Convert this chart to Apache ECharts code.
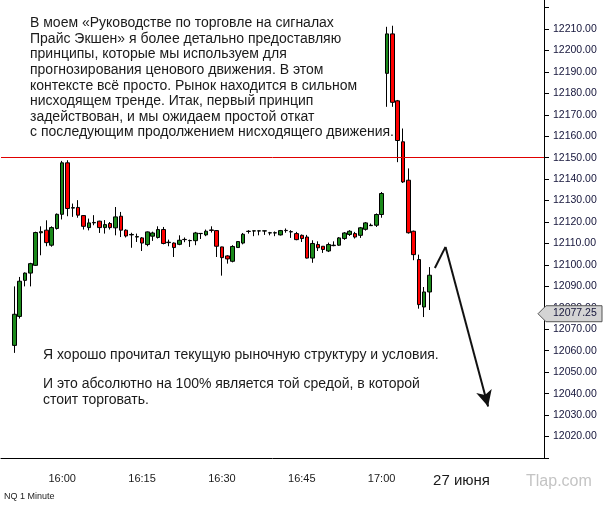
<!DOCTYPE html>
<html>
<head>
<meta charset="utf-8">
<script src="https://cdn.jsdelivr.net/npm/echarts@6/dist/echarts.min.js"></script>
<style>
  html, body { margin: 0; padding: 0; background: #fff; }
  #chart { width: 603px; height: 507px; }
</style>
</head>
<body>
<div id="chart"></div>
<script>
// minute categories shown on the x axis
const minutes = [
  "15:49", "15:50", "15:51", "15:52", "15:53", "15:54", "15:55", "15:56", "15:57", "15:58", "15:59",
  "16:00", "16:01", "16:02", "16:03", "16:04", "16:05", "16:06", "16:07", "16:08", "16:09",
  "16:10", "16:11", "16:12", "16:13", "16:14", "16:15", "16:16", "16:17", "16:18", "16:19",
  "16:20", "16:21", "16:22", "16:23", "16:24", "16:25", "16:26", "16:27", "16:28", "16:29",
  "16:30", "16:31", "16:32", "16:33", "16:34", "16:35", "16:36", "16:37", "16:38", "16:39",
  "16:40", "16:41", "16:42", "16:43", "16:44", "16:45", "16:46", "16:47", "16:48", "16:49",
  "16:50", "16:51", "16:52", "16:53", "16:54", "16:55", "16:56", "16:57", "16:58", "16:59",
  "17:00", "17:01", "17:02", "17:03", "17:04", "17:05", "17:06", "17:07", "17:08", "17:09",
  "17:10", "17:11", "17:12", "17:13", "17:14", "17:15", "17:16", "17:17", "17:18", "17:19",
  "17:20", "17:21", "17:22", "17:23", "17:24", "17:25", "17:26", "17:27", "17:28", "17:29", "17:30",
];
const labelMinutes = ["16:00", "16:15", "16:30", "16:45", "17:00", "17:15"];
const dateLabel = { "17:15": "27 июня" };
const firstCandle = "15:51";

// [open, close, low, high], one per minute from 15:51
const candles = [
  [12062.5, 12077.0, 12059.0, 12090.0],
  [12076.0, 12092.4, 12075.0, 12094.4],
  [12092.8, 12096.2, 12090.0, 12096.5],
  [12096.2, 12100.6, 12090.0, 12101.0],
  [12099.8, 12115.1, 12099.5, 12115.5],
  [12115.0, 12115.5, 12104.5, 12118.0],
  [12116.2, 12110.4, 12108.7, 12120.8],
  [12109.2, 12117.4, 12108.5, 12118.0],
  [12117.0, 12123.6, 12116.5, 12124.0],
  [12123.6, 12147.6, 12121.2, 12148.5],
  [12147.6, 12126.3, 12122.7, 12148.8],
  [12126.5, 12126.7, 12122.4, 12128.6],
  [12126.8, 12123.2, 12122.0, 12130.2],
  [12123.0, 12118.0, 12116.5, 12123.2],
  [12117.4, 12119.6, 12116.1, 12121.6],
  [12119.6, 12119.8, 12118.5, 12123.2],
  [12120.4, 12117.4, 12114.9, 12120.6],
  [12117.4, 12118.8, 12114.6, 12120.9],
  [12119.3, 12117.4, 12116.5, 12120.0],
  [12117.3, 12122.4, 12113.8, 12127.0],
  [12122.7, 12116.2, 12113.0, 12124.7],
  [12116.2, 12113.5, 12112.8, 12116.6],
  [12114.0, 12114.2, 12108.0, 12115.0],
  [12113.0, 12113.2, 12110.7, 12114.6],
  [12112.6, 12110.2, 12106.5, 12113.0],
  [12109.5, 12115.4, 12108.7, 12115.6],
  [12113.4, 12114.9, 12111.2, 12115.5],
  [12112.8, 12116.5, 12112.3, 12118.0],
  [12116.5, 12110.0, 12109.6, 12117.7],
  [12110.4, 12110.6, 12108.7, 12111.8],
  [12110.2, 12108.1, 12103.7, 12110.5],
  [12109.6, 12111.5, 12109.2, 12113.8],
  [12111.8, 12111.9, 12110.6, 12112.8],
  [12111.3, 12111.4, 12108.4, 12111.8],
  [12111.3, 12114.9, 12109.2, 12115.4],
  [12114.6, 12114.7, 12112.1, 12114.8],
  [12114.0, 12115.7, 12113.4, 12116.5],
  [12116.3, 12116.1, 12115.1, 12118.0],
  [12116.0, 12108.7, 12103.7, 12116.2],
  [12108.4, 12103.4, 12095.0, 12108.5],
  [12104.2, 12102.8, 12100.6, 12104.5],
  [12101.7, 12108.6, 12101.2, 12109.2],
  [12108.1, 12110.9, 12108.0, 12111.0],
  [12110.2, 12114.3, 12109.6, 12114.9],
  [12115.6, 12115.7, 12114.6, 12116.2],
  [12115.8, 12115.9, 12113.4, 12116.0],
  [12115.8, 12115.9, 12113.8, 12116.0],
  [12115.8, 12115.9, 12114.0, 12116.0],
  [12114.9, 12115.0, 12113.8, 12115.4],
  [12114.9, 12115.0, 12113.4, 12115.6],
  [12114.0, 12116.0, 12113.7, 12116.3],
  [12116.0, 12116.1, 12115.0, 12117.0],
  [12115.4, 12115.5, 12112.6, 12116.2],
  [12114.6, 12111.8, 12111.5, 12115.4],
  [12113.8, 12112.3, 12110.7, 12114.2],
  [12113.0, 12103.2, 12103.0, 12114.0],
  [12103.2, 12110.0, 12101.0, 12111.5],
  [12109.5, 12108.0, 12106.5, 12111.0],
  [12108.7, 12107.2, 12105.6, 12108.8],
  [12106.5, 12109.5, 12106.0, 12110.4],
  [12109.0, 12109.2, 12108.7, 12111.0],
  [12109.2, 12112.6, 12108.9, 12113.0],
  [12112.3, 12114.9, 12111.7, 12115.3],
  [12114.2, 12115.7, 12113.5, 12116.2],
  [12114.6, 12113.0, 12112.3, 12115.4],
  [12113.8, 12117.3, 12112.6, 12117.7],
  [12116.6, 12119.6, 12116.0, 12120.0],
  [12118.3, 12118.5, 12118.2, 12119.3],
  [12118.5, 12123.5, 12117.7, 12124.0],
  [12123.5, 12133.3, 12122.0, 12134.0],
  [12189.3, 12207.7, 12173.7, 12211.0],
  [12207.7, 12175.8, 12173.7, 12211.5],
  [12176.5, 12158.0, 12147.9, 12176.9],
  [12157.4, 12138.7, 12138.2, 12163.6],
  [12139.5, 12115.0, 12114.6, 12145.0],
  [12115.7, 12104.8, 12102.2, 12116.0],
  [12102.5, 12081.5, 12079.6, 12104.8],
  [12080.4, 12087.4, 12075.7, 12089.7],
  [12087.4, 12095.2, 12079.0, 12099.0],
];

const levelPrice = 12150;
const lastPrice = 12077.25;
// hand drawn arrow: [minute, price]
const arrowPath = [["17:10", 12098.6], ["17:12", 12108.4], ["17:20", 12034.0]];

const topNote = [
  "В моем «Руководстве по торговле на сигналах",
  "Прайс Экшен» я более детально предоставляю",
  "принципы, которые мы используем для",
  "прогнозирования ценового движения. В этом",
  "контексте всё просто. Рынок находится в сильном",
  "нисходящем тренде. Итак, первый принцип",
  "задействован, и мы ожидаем простой откат",
  "с последующим продолжением нисходящего движения.",
];
const bottomNote1 = "Я хорошо прочитал текущую рыночную структуру и условия.";
const bottomNote2 = [
  "И это абсолютно на 100% является той средой, в которой",
  "стоит торговать.",
];

const start = minutes.indexOf(firstCandle);
const ohlc = minutes.map((m, i) => {
  const k = i - start;
  return k >= 0 && k < candles.length ? candles[k] : "-";
});

const font = "Liberation Sans, Arial, sans-serif";
const showTick = (i, v) => labelMinutes.indexOf(v) >= 0;

var dom = document.getElementById("chart");
var chart = echarts.init(dom, null, { renderer: "canvas" });

var option = {
  animation: false,
  backgroundColor: "#fff",
  textStyle: { fontFamily: font },
  grid: { left: 1, right: 59, top: 7.5, bottom: 49 },
  xAxis: {
    type: "category",
    data: minutes,
    boundaryGap: true,
    axisLine: { lineStyle: { color: "#000", width: 1 } },
    axisTick: { interval: showTick, alignWithLabel: true, length: 5, lineStyle: { color: "#000" } },
    axisLabel: {
      interval: showTick,
      margin: 15,
      color: "#1a1a1a",
      fontSize: 11,
      formatter: (v) => (dateLabel[v] ? "{d|" + dateLabel[v] + "}" : v),
      rich: { d: { fontSize: 15, color: "#1a1a1a", fontFamily: font } },
    },
    splitLine: { show: false },
  },
  yAxis: {
    type: "value",
    position: "right",
    min: 12010,
    max: 12220,
    interval: 10,
    axisLine: { show: true, lineStyle: { color: "#000", width: 1 } },
    axisTick: { show: true, length: 5, lineStyle: { color: "#000" } },
    axisLabel: {
      margin: 9,
      color: "#14143a",
      fontSize: 10.5,
      formatter: (v) => (v >= 12020 && v <= 12210 ? v.toFixed(2) : ""),
    },
    splitLine: { show: false },
  },
  series: [
    {
      type: "candlestick",
      data: ohlc,
      barWidth: 4,
      z: 3,
      itemStyle: {
        color: "#1b8a1b",
        color0: "#ff0000",
        borderColor: "#000",
        borderColor0: "#000",
        borderWidth: 1,
      },
    },
    {
      type: "line",
      name: "level",
      data: [],
      color: "#e00000",
      z: 2,
      markLine: {
        silent: true,
        symbol: ["none", "none"],
        label: { show: false },
        lineStyle: { color: "#e00000", width: 1, type: "solid", opacity: 1 },
        data: [{ yAxis: levelPrice }],
      },
    },
    {
      type: "line",
      name: "arrow",
      data: [],
      color: "#111",
      markLine: {
        silent: true,
        symbol: ["none", "none"],
        label: { show: false },
        lineStyle: { color: "#111", width: 2, type: "solid" },
        data: [
          [{ coord: arrowPath[0] }, { coord: arrowPath[1] }],
          [{ coord: arrowPath[1] }, { coord: arrowPath[2], symbol: "arrow", symbolSize: [12, 16] }],
        ],
      },
    },
  ],
};
chart.setOption(option);

// price tag on the axis, placed through the y scale
var ty = chart.convertToPixel({ yAxisIndex: 0 }, lastPrice);
var gridTop = chart.convertToPixel({ yAxisIndex: 0 }, 12220);
chart.setOption({
  graphic: [
    {
      type: "line",
      shape: { x1: 544.5, y1: 0, x2: 544.5, y2: gridTop },
      style: { stroke: "#000", lineWidth: 1 },
    },
    {
      type: "text",
      left: 30,
      top: 15.5,
      style: { text: topNote.join("\n"), font: "14px " + font, fill: "#1a1a1a", lineHeight: 15.6 },
    },
    {
      type: "text",
      left: 43,
      top: 348,
      style: { text: bottomNote1, font: "14px " + font, fill: "#1a1a1a" },
    },
    {
      type: "text",
      left: 43,
      top: 376,
      style: { text: bottomNote2.join("\n"), font: "14px " + font, fill: "#1a1a1a", lineHeight: 16 },
    },
    {
      type: "text",
      left: 4,
      top: 492,
      style: { text: "NQ 1 Minute", font: "9px " + font, fill: "#222" },
    },
    {
      type: "text",
      left: 526,
      top: 474,
      style: { text: "Tlap.com", font: "16px " + font, fill: "#c4c4c4" },
    },
    {
      type: "polygon",
      z: 100,
      shape: { points: [[538, ty], [546, ty - 8], [602, ty - 8], [602, ty + 8], [546, ty + 8]] },
      style: { fill: "#d4d4d4", stroke: "#555", lineWidth: 1 },
    },
    {
      type: "text",
      z: 101,
      x: 553,
      y: ty - 6,
      style: { text: lastPrice.toFixed(2), font: "10.5px " + font, fill: "#14143a" },
    },
  ],
});
</script>
</body>
</html>
